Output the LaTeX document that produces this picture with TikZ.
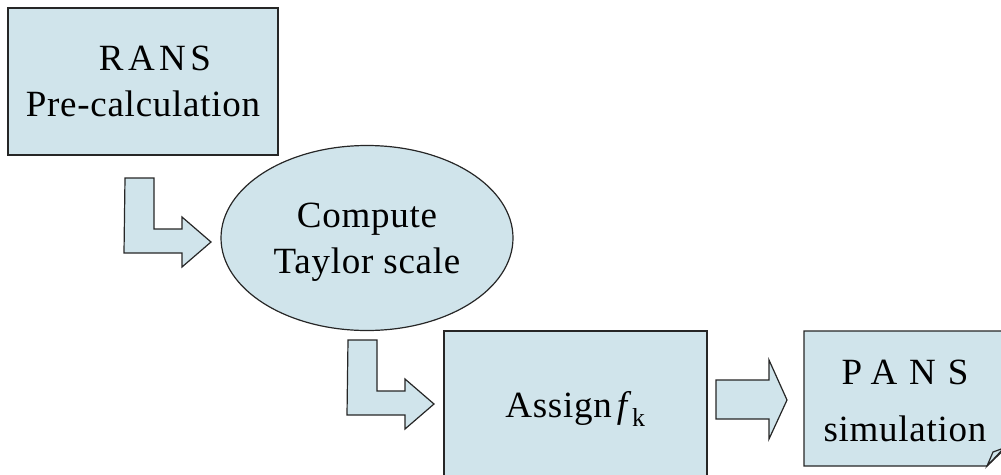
\documentclass[tikz,border=0pt]{standalone}
\usepackage{fontspec}
\setmainfont{Liberation Serif}[LetterSpace=2]
\usetikzlibrary{shapes.geometric}
\definecolor{boxfill}{RGB}{208,228,235}
\newcommand\wide[2]{{\addfontfeature{LetterSpace=#1}#2}}

\begin{document}
\begin{tikzpicture}[
        x=1pt, y=-1pt,
        blk/.style={draw=black!85, line width=1.2pt, fill=boxfill},
        txt/.style={align=center, inner sep=0pt, text depth=0pt,
                    font=\fontsize{37}{46}\selectfont},
        box/.style={blk, txt, rectangle, minimum width=#1, minimum height=147pt},
        oval/.style={blk, txt, ellipse, minimum width=292pt, minimum height=185pt},
        bentarrow/.pic={
            \path[blk] (0,0) -- (29,0) -- (29,51) -- (57,51) -- (57,39)
                -- (86,64) -- (57,89) -- (57,75) -- (-1,75) -- cycle;
        },
    ]
    \useasboundingbox (0,0) rectangle (1001,474);
    \clip (0,0) rectangle (1001,474);

    % --- Bloki ---
    \node[box=270pt] (rans) at (143,81.5) {\hspace*{24pt}\wide{12}{RANS}\\Pre-calculation};
    \node[oval] (taylor) at (367,238) {Compute\\Taylor scale};
    \node[box=263pt] (assign) at (575.5,404.5) {Assign\hspace{5pt}\textit{f}\textsubscript{k}};

    % --- Blok z zagietym rogiem ---
    \path[blk] (804,331) -- (1012,331) -- (1012,442) -- (987,466) -- (804,466) -- cycle;
    \path[blk] (987,466) -- (993,452) -- (1004,448) -- cycle;
    \node[txt] (pans) at (905,401) {\wide{32}{PANS}\\[11pt]simulation};

    % --- Strzalki ---
    \pic at (125,178) {bentarrow};
    \pic at (348,340) {bentarrow};
    \path[blk] (716,380) -- (769,380) -- (769,360) -- (787,400)
        -- (769,439) -- (769,419) -- (716,419) -- cycle;
\end{tikzpicture}
\end{document}
